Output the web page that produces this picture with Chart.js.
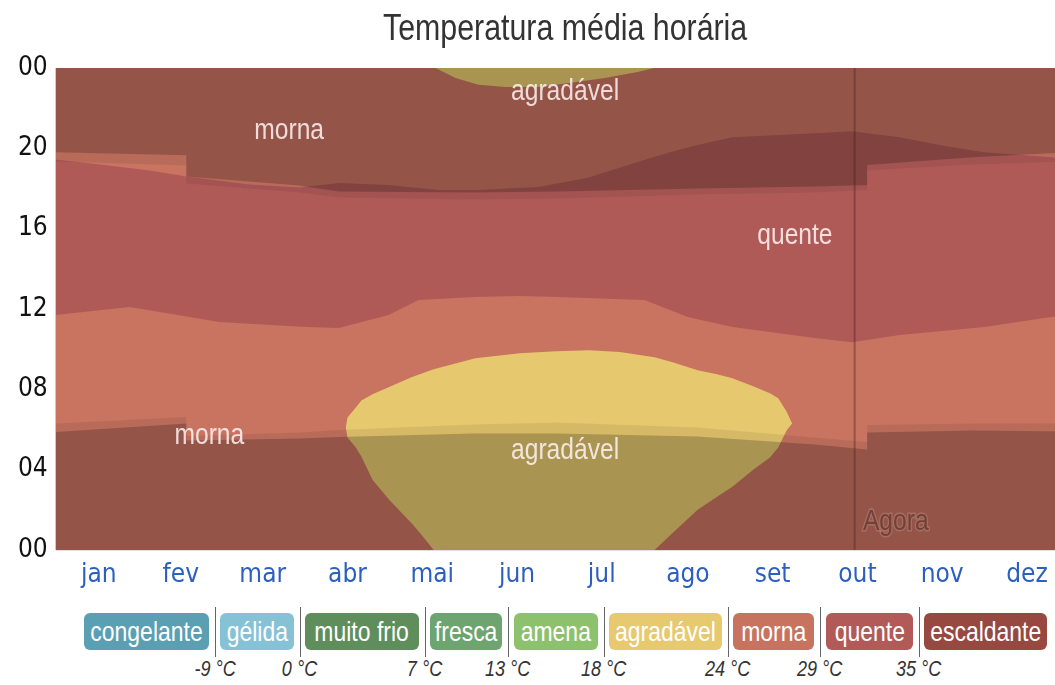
<!DOCTYPE html>
<html><head><meta charset="utf-8">
<script src="https://cdn.jsdelivr.net/npm/chart.js@4.4.1/dist/chart.umd.min.js"></script>
<style>
html,body{margin:0;padding:0;background:#fff;overflow:hidden;width:1055px;height:685px;}
#wrap{position:absolute;left:0;top:0;width:1080px;height:600px;}
#title{position:absolute;left:0;top:6px;width:1130px;height:44px;line-height:44px;display:flex;justify-content:center;
  font-family:'Liberation Sans',Arial,sans-serif;font-size:37px;color:#333;white-space:nowrap;}
#title span{display:inline-block;transform:scaleX(0.82);}
.lb{position:absolute;top:613px;height:37px;line-height:37px;border-radius:6px;color:#fff;display:flex;justify-content:center;
  font-family:'Liberation Sans',Arial,sans-serif;font-size:28px;white-space:nowrap;}
.lb span{display:inline-block;transform:scaleX(0.82);}
.sep{position:absolute;top:607px;height:50px;width:1px;background:#666;}
.tmp{position:absolute;top:656px;width:80px;margin-left:-40px;display:flex;justify-content:center;
  font-family:'Liberation Sans',Arial,sans-serif;font-style:italic;font-size:22px;color:#333;white-space:nowrap;}
.tmp span{display:inline-block;transform:scaleX(0.82);}
</style>
</head><body>
<div id="wrap"><canvas id="c" width="1080" height="600"></canvas></div>
<div id="title"><span>Temperatura média horária</span></div>
<script>
const TICKFONT = "'DejaVu Sans Condensed','DejaVu Sans',sans-serif";
const LABELFONT = "'Liberation Sans',Arial,sans-serif";

// ---- axis labels ----
const monthNames = ['jan','fev','mar','abr','mai','jun','jul','ago','set','out','nov','dez'];
const monthStarts = [0,31,59,90,120,151,181,212,243,273,304,334,365];
const hourTicks = [0,4,8,12,16,20,24];

// ---- temperature bands (x = day of year, y = hour of day) ----
const quenteEndDays  = [0,15.9,33.8,47.1,69.6,87.6,101.9,119.8,137.7,152.1,173.6,191.5,209.4,221.3,230.9,243.5,273.2,286.5,303.7,320.5,334.2,358.2,365];
const quenteEndHours = [19.45,19.2,18.9,18.6,18.2,18.05,18.28,18.18,17.93,17.93,18.08,18.53,19.32,19.82,20.17,20.55,20.75,20.85,20.55,20.1,19.8,19.55,19.45];
const quenteStartDays  = [0,26.6,58.9,90,101.9,119.8,130.6,151,166.4,180.7,211.9,227.4,243.5,273.2,286.5,303.7,334.2,358.2,365];
const quenteStartHours = [11.7,12.1,11.35,11.1,11.05,11.7,12.45,12.6,12.65,12.6,12.45,11.6,11.1,10.55,10.35,10.7,11.1,11.6,11.7];

const agradDays   = [104.4,105,108,110,114,120,128,132,136,151,167,180,192,203,215.5,222,231,238,243.5,251,257,260,263,265];
const agradTop    = [6.1,6.6,7.1,7.45,7.75,8.12,8.6,8.8,9.0,9.55,9.8,9.9,9.95,9.86,9.6,9.35,8.95,8.75,8.55,8.15,7.8,7.55,6.9,6.3];
const agradBottom = [6.1,5.6,5.1,4.65,3.5,2.5,1.35,0.7,0,0,0,0,0,0,0,0.85,2.0,2.65,3.15,4.0,4.6,5.1,5.95,6.3];

const agradNightDays  = [136.7,143.9,152.1,161.8,173.6,185.4,197.6,209.4,215.5];
const agradNightHours = [24,23.5,23.16,23.06,23.06,23.26,23.5,23.8,24];

// ---- daylight (with DST jumps) ----
const sunDays      = [0,47,47,87.6,101.9,150,180.7,230.9,273.2,292,292,330,365];
const dawnHours    = [5.88,6.3,5.45,5.55,5.63,5.8,5.8,5.65,5.25,5.0,5.85,5.95,5.9];
const sunriseHours = [6.3,6.62,5.68,5.85,5.98,6.25,6.35,6.1,5.6,5.38,6.22,6.3,6.3];
const sunsetHours  = [19.35,19.15,18.25,17.8,17.55,17.45,17.5,17.7,17.8,17.93,18.9,19.2,19.35];
const duskHours    = [19.8,19.65,18.6,18.15,17.85,17.8,17.85,18.0,18.1,18.18,19.17,19.55,19.8];

const nowDay = 287.5;

// ---- legend ----
const legendNames  = ['congelante','gélida','muito frio','fresca','amena','agradável','morna','quente','escaldante'];
const legendColors = ['#5b9fb3','#86c2d6','#5f8d5b','#6ea46f','#8ec16e','#e7c96f','#c8735f','#b25a58','#974841'];
const legendTemps  = ['-9 °C','0 °C','7 °C','13 °C','18 °C','24 °C','29 °C','35 °C'];

const MORNA = '#c87461', QUENTE = '#b05a58', AGRAD = '#e6c86e';

const mids = monthNames.map((m,i)=>(monthStarts[i]+monthStarts[i+1])/2);
const mk = (days, hours) => days.map((d,i)=>({x:d,y:hours[i]}));
const ds = (label, data, fill, color, order) => ({label, data, fill, backgroundColor: color,
  borderColor:'rgba(0,0,0,0)', borderWidth:0, pointRadius:0, pointHoverRadius:0, tension:0, order});

const datasets = [
  ds('morna', mk([0,365],[24,24]), 'start', MORNA, 100),
  ds('quente', mk(quenteEndDays, quenteEndHours), 'start', QUENTE, 90),
  ds('morna manhã', mk(quenteStartDays, quenteStartHours), 'start', MORNA, 85),
  ds('agradável base', mk(agradDays, agradBottom), false, 'rgba(0,0,0,0)', 80),
  ds('agradável', mk(agradDays, agradTop), 3, AGRAD, 79),
  ds('agradável noite', mk(agradNightDays, agradNightHours), 'end', AGRAD, 78),
  ds('crepúsculo manhã', mk(sunDays, sunriseHours), 'start', 'rgba(0,0,0,0.07)', 60),
  ds('noite manhã', mk(sunDays, dawnHours), 'start', 'rgba(0,0,0,0.2)', 59),
  ds('crepúsculo tarde', mk(sunDays, sunsetHours), 'end', 'rgba(0,0,0,0.07)', 58),
  ds('noite tarde', mk(sunDays, duskHours), 'end', 'rgba(0,0,0,0.2)', 57),
  Object.assign(ds('agora', mk([nowDay,nowDay],[0,24]), false, 'rgba(0,0,0,0)', 50),
    {borderColor:'rgba(60,25,20,0.35)', borderWidth:2})
];

const regionLabels = [
  {text:'morna', x:84, y:20.9}, {text:'morna', x:55.3, y:5.68},
  {text:'agradável', x:183.3, y:22.8}, {text:'agradável', x:183.3, y:4.93},
  {text:'quente', x:266, y:15.64}
];

function narrowText(ctx, text, px, py, stroke){
  ctx.save();
  ctx.translate(px, py);
  ctx.scale(0.82, 1);
  if (stroke) ctx.strokeText(text, 0, 0);
  ctx.fillText(text, 0, 0);
  ctx.restore();
}

const labelPlugin = {
  id:'labels',
  afterDraw(chart){
    const {ctx, scales:{x,y}, chartArea:a} = chart;
    ctx.save();
    ctx.beginPath(); ctx.rect(a.left, a.top, a.width, a.height); ctx.clip();
    ctx.textAlign='center'; ctx.textBaseline='middle';
    ctx.font = '30px ' + LABELFONT;
    ctx.fillStyle = 'rgba(255,245,245,0.85)';
    regionLabels.forEach(l => narrowText(ctx, l.text, x.getPixelForValue(l.x), y.getPixelForValue(l.y)));
    ctx.lineWidth = 3; ctx.strokeStyle = 'rgba(255,220,210,0.18)';
    ctx.fillStyle = 'rgba(95,50,42,0.75)';
    narrowText(ctx, 'Agora', x.getPixelForValue(nowDay + 14.8), y.getPixelForValue(1.4), true);
    ctx.restore();
  }
};

new Chart(document.getElementById('c'), {
  type:'line',
  data:{datasets},
  plugins:[labelPlugin],
  options:{
    responsive:false, animation:false, events:[],
    layout:{padding:{top:68,right:6,bottom:0,left:0}},
    plugins:{ legend:{display:false}, tooltip:{enabled:false}, filler:{propagate:false} },
    scales:{
      x:{type:'linear', min:0, max:365, z:1,
        afterBuildTicks: s => { s.ticks = monthStarts.concat(mids).sort((a,b)=>a-b).map(v=>({value:v})); },
        ticks:{autoSkip:false, maxRotation:0, minRotation:0, padding:10, color:'#2c5fbf',
          font:{family:TICKFONT,size:26}, callback: v => { const i = mids.indexOf(v); return i>=0 ? monthNames[i] : ''; }},
        grid:{drawTicks:false, lineWidth:1.5,
          color: c => (c.tick && monthStarts.includes(c.tick.value)) ? 'rgba(0,0,0,0.18)' : 'rgba(0,0,0,0)'},
        border:{display:false},
        afterFit: s => { s.height = 50; }
      },
      y:{type:'linear', min:0, max:24, z:1,
        afterBuildTicks: s => { s.ticks = hourTicks.map(v=>({value:v})); },
        ticks:{padding:8, color:'#111', font:{family:TICKFONT,size:26}, callback: v => String(v%24).padStart(2,'0')},
        grid:{drawTicks:false, lineWidth:1, color:'rgba(0,0,0,0.12)'},
        border:{display:false},
        afterFit: s => { s.width = 55.7; }
      }
    }
  }
});

// legend (HTML)
const boxLeft = [84,220,305,430,514,609,733,826,924];
const boxWidth = [125,74,114,72,84,113,81,87,123];
legendNames.forEach((n,i)=>{
  const d = document.createElement('div');
  d.className='lb';
  const sp = document.createElement('span'); sp.textContent = n; d.appendChild(sp);
  d.style.left=boxLeft[i]+'px'; d.style.width=boxWidth[i]+'px';
  d.style.background=legendColors[i];
  document.body.appendChild(d);
});
legendTemps.forEach((t,i)=>{
  const sx = Math.round((boxLeft[i]+boxWidth[i]+boxLeft[i+1])/2);
  const s = document.createElement('div'); s.className='sep'; s.style.left=sx+'px';
  document.body.appendChild(s);
  const l = document.createElement('div'); l.className='tmp';
  const sp = document.createElement('span'); sp.textContent = t; l.appendChild(sp);
  l.style.left=sx+'px';
  document.body.appendChild(l);
});
</script>
</body></html>
